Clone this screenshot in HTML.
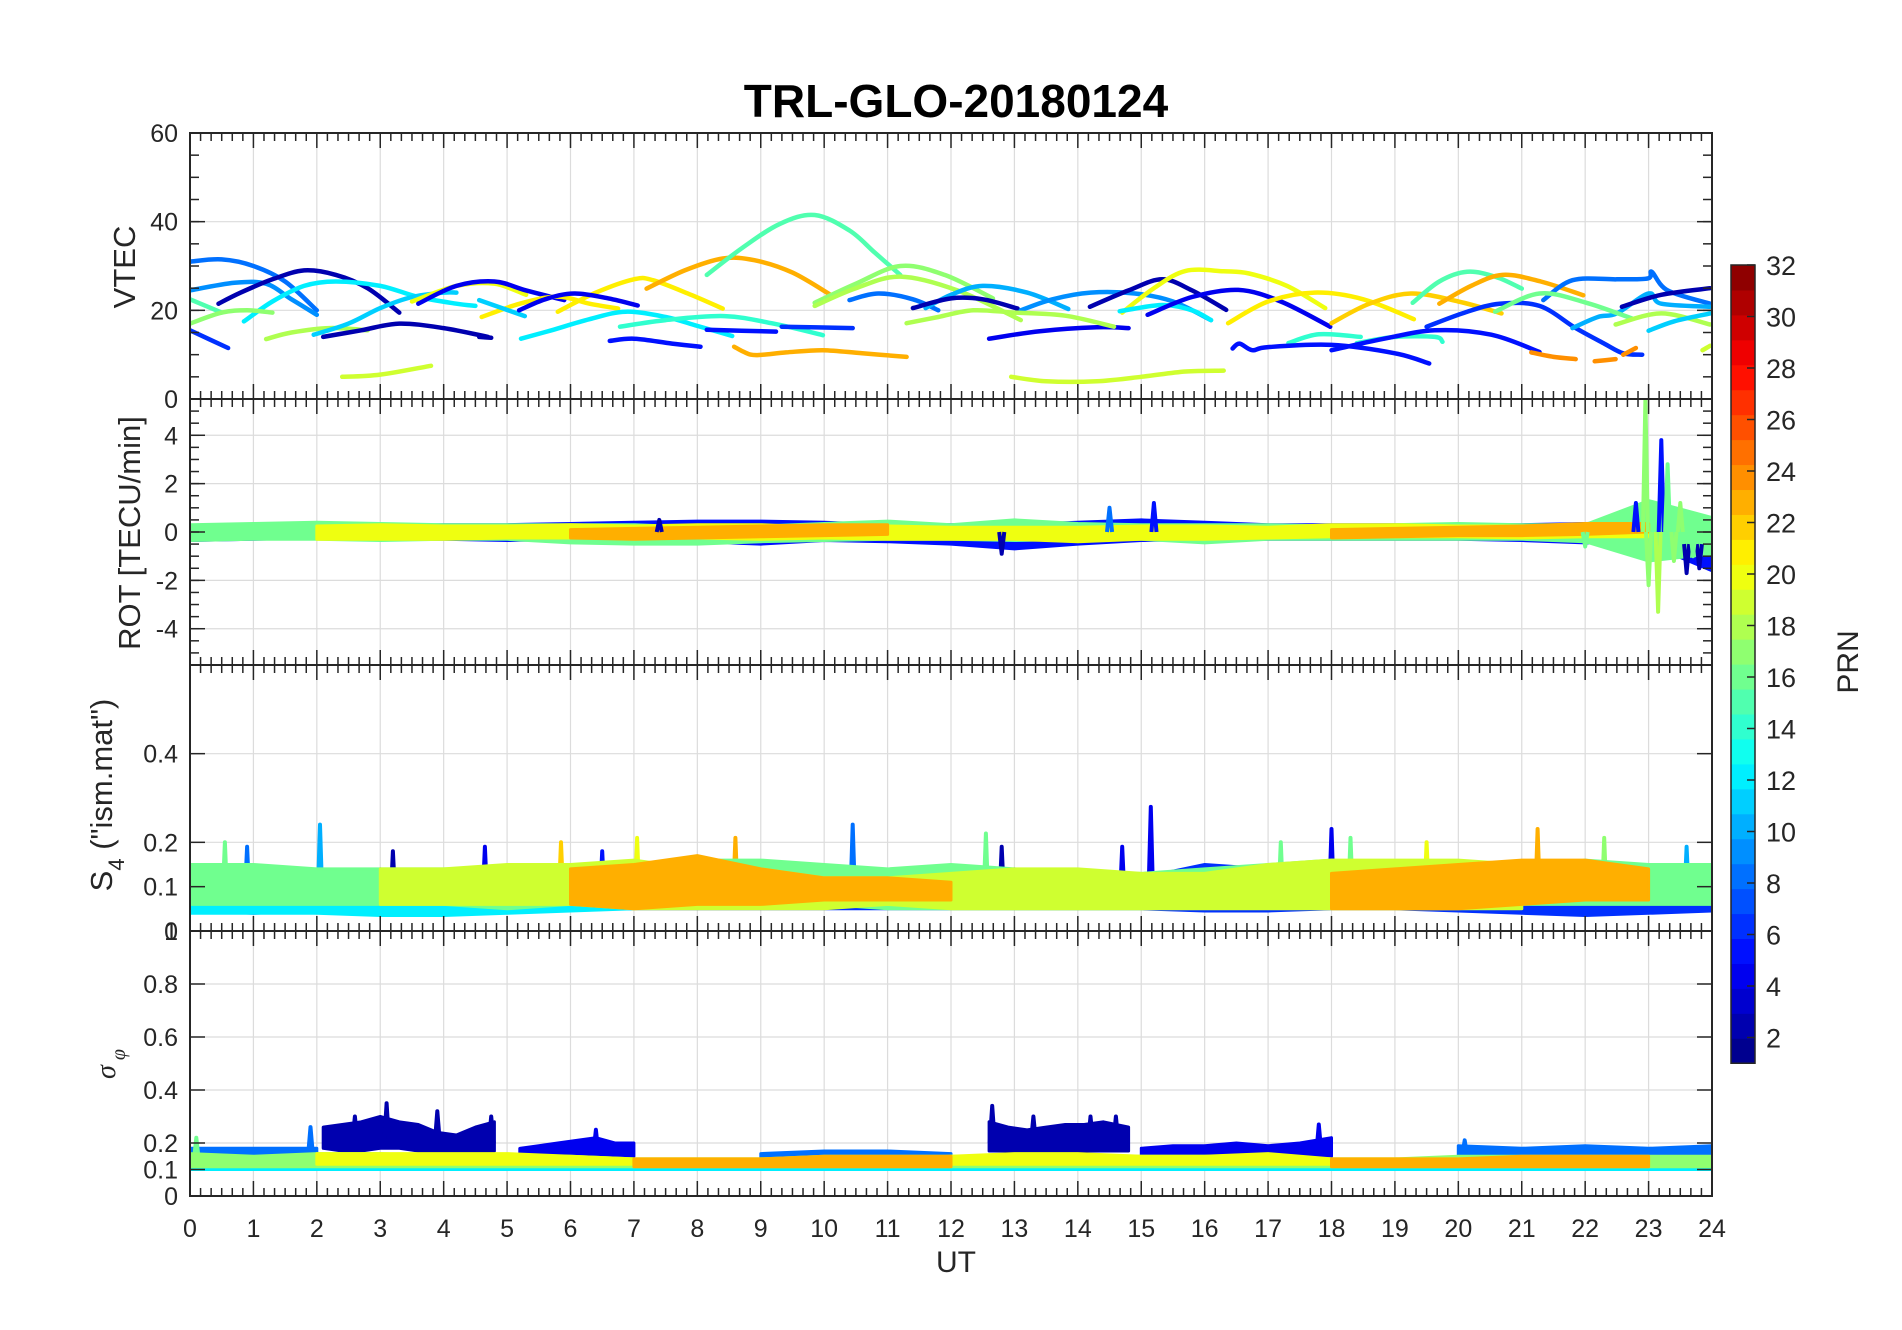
<!DOCTYPE html>
<html><head><meta charset="utf-8"><title>TRL-GLO-20180124</title>
<style>
html,body{margin:0;padding:0;background:#fff;}
svg{display:block;font-family:"Liberation Sans",Arial,sans-serif;}
</style></head>
<body>
<svg id="chart" width="1902" height="1330" viewBox="0 0 1902 1330" xmlns="http://www.w3.org/2000/svg">
<rect x="0" y="0" width="1902" height="1330" fill="#fff"/>
<text x="956" y="117" text-anchor="middle" font-size="46" font-weight="bold" fill="#000">TRL-GLO-20180124</text>
<g id="grid"></g>
<g id="marks"></g>
<g id="axes"></g>
<text transform="translate(135,267) rotate(-90)" text-anchor="middle" font-size="31" fill="#262626">VTEC</text>
<text transform="translate(140,533) rotate(-90)" text-anchor="middle" font-size="31" fill="#262626">ROT [TECU/min]</text>
<text transform="translate(112,795) rotate(-90)" text-anchor="middle" font-size="31" fill="#262626">S<tspan font-size="22" dy="12">4</tspan><tspan dy="-12"> ("ism.mat")</tspan></text>
<text transform="translate(115,1064) rotate(-90)" text-anchor="middle" font-size="28" font-style="italic" font-family="Liberation Serif, serif" fill="#262626">σ<tspan font-size="20" dy="10"> φ</tspan></text>
<text x="956" y="1272" text-anchor="middle" font-size="30" fill="#262626">UT</text>
<g id="cbar"></g>
<text transform="translate(1858,662) rotate(-90)" text-anchor="middle" font-size="30" fill="#262626">PRN</text>
</svg>
<script>
// ---------- data ----------
const hours = [0,1,2,3,4,5,6,7,8,9,10,11,12,13,14,15,16,17,18,19,20,21,22,23,24];
const xTickLabels = ["0","1","2","3","4","5","6","7","8","9","10","11","12","13","14","15","16","17","18","19","20","21","22","23","24"];
const vtecTicks = [0,20,40,60];
const rotTicks = [-4,-2,0,2,4];
const s4Ticks = [0,0.1,0.2,0.4];
const sigTicks = [0,0.1,0.2,0.4,0.6,0.8,1];
const cbarTicks = [2,4,6,8,10,12,14,16,18,20,22,24,26,28,30,32];

// VTEC arcs: [prn, [hour, TECU] ...]
const vtecArcs = [
 [8,[[0,31],[0.5,31.5],[1,30],[1.5,26.5],[2,20]]],
 [9,[[0,24.5],[0.7,26.2],[1.2,26],[1.6,22.5],[2,19]]],
 [2,[[0.45,21.5],[0.8,24],[1.3,27],[1.8,29],[2.3,28],[2.8,25],[3.3,19.5]]],
 [12,[[0.85,17.5],[1.3,22],[1.8,25.5],[2.3,26.5],[3.0,25.5],[3.6,23],[4.2,21.5],[4.5,21]]],
 [15,[[0,22.5],[0.5,19.5]]],
 [17,[[0,17],[0.5,19.5],[0.9,20],[1.3,19.5]]],
 [6,[[0,15.5],[0.6,11.5]]],
 [18,[[1.2,13.5],[1.6,15],[2.2,16],[2.8,15.5]]],
 [11,[[1.95,14.5],[2.5,17],[3.0,20.5],[3.5,23],[4.0,24],[4.2,24]]],
 [2,[[2.1,14],[2.7,15.5],[3.3,17],[4.0,16],[4.7,14]]],
 [19,[[2.4,5],[3.0,5.5],[3.8,7.5]]],
 [20,[[3.5,22],[4.2,25.5],[4.8,26],[5.3,23.5]]],
 [4,[[3.6,21.5],[4.2,25.5],[4.8,26.5],[5.3,24.5],[5.9,22.3]]],
 [21,[[4.6,18.5],[5.2,21.5],[5.8,23.1],[6.3,21.5],[6.75,20.4]]],
 [21,[[5.8,19.7],[6.4,24],[7.0,27],[7.3,26.8],[7.9,23.5],[8.4,20.4]]],
 [23,[[7.2,24.9],[7.8,29],[8.4,31.7],[8.9,31.3],[9.5,28.5],[10.1,23.5]]],
 [15,[[8.15,28],[8.7,34],[9.3,39.5],[9.85,41.5],[10.4,38],[10.8,33],[11.2,28]]],
 [17,[[9.85,21.7],[10.5,26],[11.2,30],[11.9,28],[12.66,22.7]]],
 [18,[[9.85,21],[10.5,25],[11.2,27.6],[12.1,24.5],[13.1,17.8]]],
 [8,[[10.4,22.3],[10.85,23.8],[11.4,22.5],[11.8,20]]],
 [10,[[11.6,20.5],[12.0,23.5],[12.5,25.5],[13.2,24],[13.85,20.3]]],
 [2,[[11.4,20.5],[12.0,22.7],[12.5,22.5],[13.05,20.4]]],
 [9,[[13.1,20],[13.6,22.5],[14.2,24],[14.9,23.8],[15.5,22],[16.1,17.8]]],
 [4,[[12.6,13.6],[13.4,15.3],[14.3,16.2],[14.8,16]]],
 [18,[[11.3,17.1],[11.8,18.5],[12.35,20],[13,19.5],[13.8,18.8],[14.57,16.3]]],
 [19,[[12.95,5],[13.5,4],[14.3,4],[15,5],[15.7,6.2],[16.3,6.4]]],
 [23,[[8.58,11.8],[8.75,10.5],[8.93,9.9],[9.4,10.5],[9.98,11],[10.6,10.3],[11.3,9.5]]],
 [11,[[4.56,22.3],[5.28,18.7]]],
 [12,[[5.22,13.6],[5.7,15.5],[6.3,18],[6.87,19.7],[7.5,18.5],[8.0,16.5],[8.55,14.2]]],
 [14,[[6.78,16.3],[7.5,17.8],[8.43,18.7],[9.2,17],[9.98,14.4]]],
 [5,[[6.62,13.1],[7.0,13.6],[7.6,12.5],[8.05,11.8]]],
 [5,[[8.15,15.6],[9.24,15.2]]],
 [6,[[9.33,16.3],[10.45,16]]],
 [4,[[5.19,20],[5.6,22.5],[6.06,23.8],[6.6,22.7],[7.06,21.1]]],
 [2,[[14.19,20.8],[14.8,24.5],[15.33,27],[15.8,24.5],[16.34,20.1]]],
 [20,[[14.7,19.5],[15.2,25],[15.7,28.9],[16.3,28.8],[16.7,28.3],[17.3,25.5],[17.9,20.5]]],
 [12,[[14.66,19.8],[15.33,21.2],[15.8,20],[16.1,17.8]]],
 [4,[[15.1,19],[15.8,23],[16.53,24.6],[17.2,22],[17.98,16.3]]],
 [21,[[16.37,17.1],[17.0,22],[17.73,24],[18.5,22.5],[19.3,18]]],
 [22,[[18.0,17.1],[18.6,21.5],[19.25,23.8],[20.0,22],[20.68,19.3]]],
 [15,[[19.28,21.7],[19.7,26.5],[20.14,28.7],[20.6,27.5],[21.0,24.9]]],
 [23,[[19.7,21.5],[20.2,25.5],[20.7,28],[21.3,26.5],[21.97,23.4]]],
 [6,[[19.5,16.3],[20.1,19.5],[20.65,21.5],[21.28,21],[21.85,16],[22.3,12.5],[22.6,10.3],[22.9,10]]],
 [8,[[21.34,22.3],[21.8,26.8],[22.5,27],[22.99,27.2],[23.05,28.7],[23.3,24.5],[23.97,21.5]]],
 [10,[[21.8,16],[22.2,18.5],[22.5,19.3],[23.0,23.8],[23.2,21.5],[23.97,20.8]]],
 [2,[[22.58,20.8],[23.2,23.5],[23.97,25]]],
 [16,[[20.58,19.7],[21.28,23.8],[22.0,21.8],[22.73,18.2]]],
 [18,[[22.48,16.8],[23.2,19.3],[23.97,16.8]]],
 [19,[[23.85,11],[23.97,12]]],
 [11,[[23.0,15.4],[23.4,17.5],[23.97,19.3]]],
 [14,[[17.32,12.6],[17.8,14.6],[18.46,14]]],
 [14,[[18.4,12.6],[19.0,14],[19.63,14],[19.75,12.9]]],
 [5,[[16.44,11.4],[16.55,12.5],[16.75,11],[17.0,11.7],[18.0,12.2],[19.0,10.3],[19.54,8]]],
 [5,[[18.0,11],[18.8,13.5],[19.63,15.5],[20.52,14.5],[21.28,10.6]]],
 [24,[[21.15,10.5],[21.5,9.5],[21.85,9]]],
 [24,[[22.15,8.5],[22.48,9]]],
 [24,[[22.6,10],[22.8,11.5]]],
 [2,[[4.56,14],[4.75,13.8]]]
];

// ROT bands (hourly lo/hi envelopes, null = no data)
const rotBlueLo = [-0.35,-0.3,-0.25,-0.3,-0.3,-0.35,-0.3,-0.3,-0.4,-0.5,-0.35,-0.4,-0.5,-0.7,-0.5,-0.35,-0.3,-0.3,-0.3,-0.3,-0.3,-0.35,-0.45,-0.5,-1.6];
const rotBlueHi = [0.15,0.2,0.2,0.25,0.3,0.3,0.35,0.4,0.45,0.45,0.4,0.3,0.3,0.3,0.4,0.5,0.4,0.3,0.3,0.3,0.3,0.3,0.35,0.4,0.3];
const rotGreenLo = [-0.35,-0.3,-0.3,-0.35,-0.3,-0.3,-0.45,-0.5,-0.5,-0.4,-0.35,-0.3,-0.3,-0.35,-0.3,-0.3,-0.45,-0.3,-0.3,-0.3,-0.3,-0.3,-0.4,-1.2,-0.9];
const rotGreenHi = [0.3,0.35,0.4,0.35,0.3,0.3,0.3,0.3,0.2,0.25,0.35,0.45,0.3,0.5,0.35,0.3,0.3,0.3,0.25,0.3,0.35,0.3,0.3,1.3,0.6];
const rotYellowLo = [null,null,-0.3,-0.3,-0.3,-0.25,-0.25,-0.2,-0.25,-0.3,-0.25,-0.3,-0.3,-0.3,-0.4,-0.3,-0.3,-0.25,-0.2,-0.2,-0.2,-0.25,-0.2,-0.2,null];
const rotYellowHi = [null,null,0.25,0.3,0.25,0.25,0.3,0.25,0.3,0.3,0.2,0.25,0.2,0.2,0.2,0.25,0.25,0.2,0.3,0.3,0.25,0.25,0.25,0.3,null];
const rotOrangeLo = [null,null,null,null,null,null,-0.25,-0.3,-0.25,-0.2,-0.15,-0.1,null,null,null,null,null,null,-0.25,-0.2,-0.15,-0.15,-0.1,0.0,null];
const rotOrangeHi = [null,null,null,null,null,null,0.1,0.15,0.2,0.25,0.3,0.3,null,null,null,null,null,null,0.1,0.15,0.2,0.25,0.35,0.35,null];
// ROT spikes: [hour, base, peak, prn]
const rotSpikes = [[22.95,0,5.5,17],[23.0,0,-2.2,17],[23.15,0,-3.3,18],[23.2,0,3.8,5],[23.3,0,2.8,16],[23.4,0,-1.2,17],[23.6,-0.5,-1.7,2],[23.8,-0.5,-1.5,2],[22.8,0,1.2,5],[15.2,0,1.2,5],[14.5,0,1.0,8],[22.0,0,-0.6,16],[12.8,0,-0.9,2],[7.4,0,0.5,2],[23.5,0,1.2,17],[23.7,0,-1.0,16]];

// S4 bands
const s4BlueLo = [0.045,0.04,0.045,0.045,0.045,0.045,0.05,0.05,0.05,0.05,0.05,0.05,0.05,0.05,0.05,0.05,0.045,0.045,0.05,0.05,0.045,0.04,0.035,0.04,0.045];
const s4BlueHi = [0.12,0.13,0.12,0.14,0.12,0.13,0.14,0.15,0.16,0.12,0.12,0.11,0.12,0.14,0.12,0.12,0.15,0.14,0.14,0.12,0.12,0.11,0.12,0.12,0.13];
const s4CyanLo = [0.04,0.04,0.04,0.035,0.035,0.04,0.045,0.05,null,null,null,null,null,null,null,null,null,null,null,null,null,null,null,null,null];
const s4CyanHi = [0.09,0.1,0.1,0.09,0.08,0.08,0.09,0.08,null,null,null,null,null,null,null,null,null,null,null,null,null,null,null,null,null];
const s4GreenLo = [0.06,0.06,0.06,0.06,0.06,0.05,0.06,0.06,0.07,0.07,0.06,0.05,0.05,0.05,0.05,0.05,0.06,0.06,0.06,0.06,0.06,0.06,0.06,0.06,0.06];
const s4GreenHi = [0.15,0.15,0.14,0.14,0.14,0.14,0.15,0.15,0.16,0.16,0.15,0.14,0.15,0.14,0.13,0.13,0.14,0.15,0.16,0.15,0.14,0.14,0.16,0.15,0.15];
const s4YellowLo = [null,null,null,0.06,0.06,0.06,0.06,0.05,0.05,0.05,0.05,0.06,0.05,0.05,0.05,0.05,0.05,0.05,0.05,0.05,0.05,0.05,null,null,null];
const s4YellowHi = [null,null,null,0.14,0.14,0.15,0.15,0.16,0.14,0.14,0.12,0.12,0.13,0.14,0.14,0.13,0.13,0.15,0.16,0.16,0.16,0.15,null,null,null];
const s4OrangeLo = [null,null,null,null,null,null,0.06,0.05,0.06,0.06,0.07,0.07,0.07,null,null,null,null,null,0.05,0.05,0.05,0.06,0.07,0.07,null];
const s4OrangeHi = [null,null,null,null,null,null,0.14,0.15,0.17,0.14,0.12,0.12,0.11,null,null,null,null,null,0.13,0.14,0.15,0.16,0.16,0.14,null];
const s4Spikes = [[2.05,0.06,0.24,10],[10.45,0.06,0.24,8],[15.15,0.06,0.28,4],[12.55,0.06,0.22,16],[18.0,0.06,0.23,4],[21.25,0.06,0.23,23],[8.6,0.06,0.21,23],[7.05,0.06,0.21,20],[0.55,0.06,0.2,16],[14.7,0.06,0.19,4],[17.2,0.06,0.2,16],[22.3,0.06,0.21,17],[4.65,0.06,0.19,4],[5.85,0.06,0.2,22],[12.8,0.06,0.19,2],[18.3,0.06,0.21,16],[3.2,0.06,0.18,2],[0.9,0.06,0.19,8],[23.6,0.06,0.19,10],[19.5,0.06,0.2,20],[6.5,0.06,0.18,5]];

// sigma-phi bands
const sigCyanLo = [0.1,0.1,0.1,0.1,0.1,0.1,0.1,0.1,0.1,0.1,0.1,0.1,0.1,0.1,0.1,0.1,0.1,0.1,0.1,0.1,0.1,0.1,0.1,0.1,0.1];
const sigCyanHi = [0.125,0.125,0.125,0.125,0.12,0.12,0.12,0.12,0.12,0.12,0.12,0.12,0.12,0.12,0.12,0.12,0.12,0.12,0.12,0.12,0.12,0.12,0.12,0.12,0.12];
const sigAzureLo = [0.12,0.12,0.12,null,null,null,null,null,null,0.13,0.13,0.13,0.13,null,null,null,null,null,null,null,0.14,0.14,0.14,0.14,0.14];
const sigAzureHi = [0.18,0.18,0.18,null,null,null,null,null,null,0.16,0.17,0.17,0.16,null,null,null,null,null,null,null,0.19,0.18,0.19,0.18,0.19];
const sigGreenLo = [0.11,0.11,0.11,0.11,0.11,0.11,0.11,0.11,0.11,0.11,0.11,0.11,0.11,0.11,0.11,0.11,0.11,0.11,0.11,0.11,0.11,0.11,0.11,0.11,0.11];
const sigGreenHi = [0.16,0.15,0.16,0.16,0.15,0.15,0.15,0.14,0.14,0.14,0.15,0.15,0.15,0.15,0.15,0.15,0.15,0.15,0.14,0.14,0.15,0.15,0.15,0.15,0.15];
const sigYellowLo = [null,null,0.12,0.12,0.12,0.12,0.12,0.12,0.12,0.12,0.12,0.12,0.12,0.12,0.12,0.12,0.12,0.12,0.12,0.12,0.12,0.12,0.12,0.12,null];
const sigYellowHi = [null,null,0.16,0.16,0.16,0.16,0.15,0.14,0.14,0.14,0.14,0.14,0.15,0.16,0.16,0.15,0.15,0.16,0.14,0.14,0.14,0.14,0.14,0.14,null];
const sigOrangeLo = [null,null,null,null,null,null,null,0.11,0.11,0.11,0.11,0.11,0.11,null,null,null,null,null,0.11,0.11,0.11,0.11,0.11,0.11,null];
const sigOrangeHi = [null,null,null,null,null,null,null,0.14,0.14,0.14,0.15,0.15,0.15,null,null,null,null,null,0.14,0.14,0.14,0.15,0.15,0.15,null];
const sigNavy1T = [2.1,2.4,2.7,3.0,3.3,3.6,3.9,4.2,4.5,4.8];
const sigNavy1Lo = [0.18,0.17,0.17,0.18,0.18,0.17,0.16,0.16,0.17,0.17];
const sigNavy1Hi = [0.26,0.27,0.28,0.3,0.28,0.27,0.24,0.23,0.26,0.28];
const sigNavy2T = [12.6,12.9,13.2,13.5,13.8,14.1,14.4,14.8];
const sigNavy2Lo = [0.17,0.17,0.17,0.17,0.17,0.17,0.17,0.17];
const sigNavy2Hi = [0.28,0.26,0.25,0.26,0.27,0.27,0.28,0.26];
const sigBlue1T = [5.2,5.5,5.8,6.1,6.4,6.7,7.0];
const sigBlue1Lo = [0.15,0.15,0.15,0.15,0.15,0.15,0.15];
const sigBlue1Hi = [0.18,0.19,0.2,0.21,0.22,0.2,0.2];
const sigBlue2T = [15.0,15.5,16.0,16.5,17.0,17.5,18.0];
const sigBlue2Lo = [0.15,0.15,0.15,0.15,0.15,0.15,0.15];
const sigBlue2Hi = [0.18,0.19,0.19,0.2,0.19,0.2,0.22];
const sigSpikes = [[3.1,0.2,0.35,2],[2.6,0.2,0.3,2],[3.9,0.2,0.32,2],[4.75,0.2,0.3,2],[12.65,0.2,0.34,2],[13.3,0.2,0.3,2],[14.2,0.2,0.3,2],[14.6,0.2,0.3,2],[1.9,0.15,0.26,8],[6.4,0.16,0.25,4],[17.8,0.16,0.27,4],[20.1,0.15,0.21,8],[0.1,0.13,0.22,16]];

// ---------- helpers ----------
const NS = "http://www.w3.org/2000/svg";
const X0 = 190, X1 = 1712;
const panels = [
 {top:133, bot:399, min:0, max:60, ticks:vtecTicks, minor:5, name:"vtec"},
 {top:399, bot:665, min:-5.5, max:5.5, ticks:rotTicks, minor:0.5, name:"rot"},
 {top:665, bot:931, min:0, max:0.6, ticks:s4Ticks, minor:0, name:"s4"},
 {top:931, bot:1196, min:0, max:1, ticks:sigTicks, minor:0, name:"sigma"}
];
function xs(h){ return X0 + h*(X1-X0)/24; }
function ys(p, v){ return p.bot - (v-p.min)*(p.bot-p.top)/(p.max-p.min); }
function jet(prn){
  const v = (prn-0.5)/32;
  const c = t => Math.round(255*Math.max(0,Math.min(1,1.5-Math.abs(4*v-t))));
  return "rgb("+c(3)+","+c(2)+","+c(1)+")";
}
function mk(tag, attrs, parent){
  const e = document.createElementNS(NS, tag);
  for (const k in attrs) e.setAttribute(k, attrs[k]);
  parent.appendChild(e);
  return e;
}
const gGrid = document.getElementById("grid");
const gMarks = document.getElementById("marks");
const gAxes = document.getElementById("axes");
const gCbar = document.getElementById("cbar");
const AX = "#262626";

// ---------- grid + axes ----------
panels.forEach(p => {
  hours.forEach(h => {
    if (h===0 || h===24) return;
    const l = mk("line", {x1:xs(h), x2:xs(h), y1:p.top, y2:p.bot, stroke:"#dcdcdc", "stroke-width":1.2}, gGrid);
    
    
  });
  p.ticks.forEach(t => {
    const y = ys(p,t);
    if (y<=p.top+0.5 || y>=p.bot-0.5) return;
    const l = mk("line", {x1:X0, x2:X1, y1:y, y2:y, stroke:"#dcdcdc", "stroke-width":1.2}, gGrid);
    
    
  });
  const box = mk("rect", {x:X0, y:p.top, width:X1-X0, height:p.bot-p.top, fill:"none", stroke:AX, "stroke-width":2}, gAxes);
  
  
  for (let m=0; m<=24*6; m++){
    const h = m/6, x = xs(h), major = (m%6===0), L = major?15:8;
    const t1 = mk("line", {x1:x, x2:x, y1:p.bot, y2:p.bot-L, stroke:AX, "stroke-width":1.5}, gAxes);
    
    
    const t2 = mk("line", {x1:x, x2:x, y1:p.top, y2:p.top+L, stroke:AX, "stroke-width":1.5}, gAxes);
    
    
  }
  if (p.minor>0){
    for (let v=p.min; v<=p.max+1e-9; v+=p.minor){
      const vv = Math.round(v/p.minor)*p.minor, y = ys(p,vv);
      if (y<p.top || y>p.bot) continue;
      const a = mk("line", {x1:X0, x2:X0+9, y1:y, y2:y, stroke:AX, "stroke-width":1.5}, gAxes);
      
      
      const b = mk("line", {x1:X1, x2:X1-9, y1:y, y2:y, stroke:AX, "stroke-width":1.5}, gAxes);
      
      
    }
  }
  p.ticks.forEach(t => {
    const y = ys(p,t);
    const a = mk("line", {x1:X0, x2:X0+15, y1:y, y2:y, stroke:AX, "stroke-width":1.5}, gAxes);
    
    
    const b = mk("line", {x1:X1, x2:X1-15, y1:y, y2:y, stroke:AX, "stroke-width":1.5}, gAxes);
    
    
    const tx = mk("text", {x:178, y:y+9, "text-anchor":"end", "font-size":25, fill:AX}, gAxes);
    tx.textContent = String(t);
    
    
  });
});
hours.forEach((h,i) => {
  const tx = mk("text", {x:xs(h), y:1237, "text-anchor":"middle", "font-size":25, fill:AX}, gAxes);
  tx.textContent = xTickLabels[i];
  
  
});

// ---------- clip paths ----------
const defs = mk("defs", {}, document.getElementById("chart"));
panels.forEach((p,i) => {
  const cp = mk("clipPath", {id:"clip"+i}, defs);
  mk("rect", {x:X0, y:p.top, width:X1-X0, height:p.bot-p.top}, cp);
});

// ---------- VTEC arcs ----------
function smoothPath(pts){
  let d = "M"+pts[0][0].toFixed(1)+","+pts[0][1].toFixed(1);
  for (let i=0;i<pts.length-1;i++){
    const p0 = pts[i-1]||pts[i], p1 = pts[i], p2 = pts[i+1], p3 = pts[i+2]||p2;
    const c1x = p1[0]+(p2[0]-p0[0])/6, c1y = p1[1]+(p2[1]-p0[1])/6;
    const c2x = p2[0]-(p3[0]-p1[0])/6, c2y = p2[1]-(p3[1]-p1[1])/6;
    d += " C"+c1x.toFixed(1)+","+c1y.toFixed(1)+" "+c2x.toFixed(1)+","+c2y.toFixed(1)+" "+p2[0].toFixed(1)+","+p2[1].toFixed(1);
  }
  return d;
}
const gV = mk("g", {"clip-path":"url(#clip0)"}, gMarks);


vtecArcs.forEach(a => {
  const pts = a[1].map(q => [xs(q[0]), ys(panels[0], q[1])]);
  const path = mk("path", {d:smoothPath(pts), fill:"none", stroke:jet(a[0]), "stroke-width":4.5, "stroke-linecap":"round", "stroke-linejoin":"round"}, gV);
  
  
});

// ---------- bands ----------
function band(panelIdx, prn, times, lo, hi, name, parent){
  let seg = [];
  const flush = () => {
    if (seg.length>1){
      const p = panels[panelIdx];
      const up = seg.map(i => xs(times[i]).toFixed(1)+","+ys(p,hi[i]).toFixed(1));
      const dn = seg.slice().reverse().map(i => xs(times[i]).toFixed(1)+","+ys(p,lo[i]).toFixed(1));
      const poly = mk("polygon", {points:up.concat(dn).join(" "), fill:jet(prn), stroke:jet(prn), "stroke-width":3, "stroke-linejoin":"round"}, parent);
      
      
    }
    seg = [];
  };
  for (let i=0;i<times.length;i++){
    if (lo[i]===null || hi[i]===null) flush(); else seg.push(i);
  }
  flush();
}
function spikes(panelIdx, list, name, parent){
  const p = panels[panelIdx];
  list.forEach(s => {
    const pts = [[s[0]-0.04,s[1]],[s[0],s[2]],[s[0]+0.04,s[1]]].map(q => xs(q[0]).toFixed(1)+","+ys(p,q[1]).toFixed(1)).join(" ");
    const pl = mk("polyline", {points:pts, fill:"none", stroke:jet(s[3]), "stroke-width":4, "stroke-linejoin":"round"}, parent);
    
    
  });
}
const gR = mk("g", {"clip-path":"url(#clip1)"}, gMarks);


band(1, 5, hours, rotBlueLo, rotBlueHi, 'rot-band-blue', gR);
band(1, 16, hours, rotGreenLo, rotGreenHi, 'rot-band-green', gR);
band(1, 20, hours, rotYellowLo, rotYellowHi, 'rot-band-yellow', gR);
band(1, 23, hours, rotOrangeLo, rotOrangeHi, 'rot-band-orange', gR);
spikes(1, rotSpikes, 'rot-spike', gR);

const gS = mk("g", {"clip-path":"url(#clip2)"}, gMarks);


band(2, 6, hours, s4BlueLo, s4BlueHi, 's4-band-blue', gS);
band(2, 12, hours, s4CyanLo, s4CyanHi, 's4-band-cyan', gS);
spikes(2, s4Spikes, 's4-spike', gS);
band(2, 16, hours, s4GreenLo, s4GreenHi, 's4-band-green', gS);
band(2, 19, hours, s4YellowLo, s4YellowHi, 's4-band-yellow', gS);
band(2, 23, hours, s4OrangeLo, s4OrangeHi, 's4-band-orange', gS);

const gP = mk("g", {"clip-path":"url(#clip3)"}, gMarks);


band(3, 8, hours, sigAzureLo, sigAzureHi, 'sigma-band-azure', gP);
band(3, 2, sigNavy1T, sigNavy1Lo, sigNavy1Hi, 'sigma-band-navy', gP);
band(3, 2, sigNavy2T, sigNavy2Lo, sigNavy2Hi, 'sigma-band-navy', gP);
band(3, 4, sigBlue1T, sigBlue1Lo, sigBlue1Hi, 'sigma-band-blue', gP);
band(3, 4, sigBlue2T, sigBlue2Lo, sigBlue2Hi, 'sigma-band-blue', gP);
spikes(3, sigSpikes, 'sigma-spike', gP);
band(3, 12, hours, sigCyanLo, sigCyanHi, 'sigma-band-cyan', gP);
band(3, 17, hours, sigGreenLo, sigGreenHi, 'sigma-band-green', gP);
band(3, 20, hours, sigYellowLo, sigYellowHi, 'sigma-band-yellow', gP);
band(3, 23, hours, sigOrangeLo, sigOrangeHi, 'sigma-band-orange', gP);

// ---------- colorbar ----------
const CB = {x:1731, w:24, top:265, unit:25.75, vmin:1, vmax:32};
function cy(v){ return CB.top + (CB.vmax - v)*CB.unit; }
for (let i=0;i<32;i++){
  const v0 = CB.vmin + i*(CB.vmax-CB.vmin)/32, v1 = CB.vmin + (i+1)*(CB.vmax-CB.vmin)/32;
  const r = mk("rect", {x:CB.x, y:cy(v1), width:CB.w, height:cy(v0)-cy(v1)+0.5, fill:jet(i+1)}, gCbar);
  
  
}
const cbBox = mk("rect", {x:CB.x, y:CB.top, width:CB.w, height:cy(CB.vmin)-CB.top, fill:"none", stroke:AX, "stroke-width":1.5}, gCbar);


cbarTicks.forEach(t => {
  const y = cy(t);
  const l = mk("line", {x1:CB.x+CB.w, x2:CB.x+CB.w-8, y1:y, y2:y, stroke:AX, "stroke-width":1.5}, gCbar);
  
  
  const tx = mk("text", {x:1766, y:y+10, "font-size":27, fill:AX}, gCbar);
  tx.textContent = String(t);
  
  
});
</script>
</body></html>
